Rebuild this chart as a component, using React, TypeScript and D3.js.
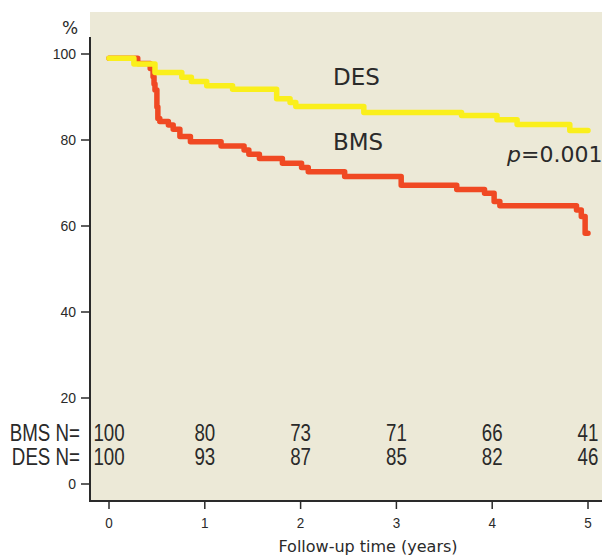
import React from 'react';
import * as d3 from 'd3';

// Kaplan-Meier curves, BMS vs DES
const desTime = [0, 0.26, 0.48, 0.76, 0.86, 1.02, 1.29, 1.75, 1.89, 1.95, 2.66, 3.68, 4.05, 4.26, 4.81, 5.0];
const desSurv = [99, 97.7, 95.7, 94.6, 93.6, 92.6, 91.8, 89.6, 88.7, 87.8, 86.4, 85.7, 84.7, 83.6, 82.2, 82.2];

const bmsTime = [0, 0.3, 0.43, 0.46, 0.47, 0.48, 0.5, 0.51, 0.53, 0.62, 0.67, 0.74, 0.85, 1.17, 1.41, 1.46, 1.57, 1.81, 2.01, 2.08, 2.46, 3.05, 3.63, 3.92, 4.02, 4.08, 4.88, 4.93, 4.97, 5.0];
const bmsSurv = [99, 97.8, 96.6, 94.7, 93, 91.6, 87.7, 85.0, 84.3, 83.5, 82.5, 80.8, 79.6, 78.6, 77.7, 76.7, 75.7, 74.6, 73.6, 72.6, 71.5, 69.5, 68.5, 67.6, 65.7, 64.7, 63.7, 62.2, 58.3, 58.3];

// numbers at risk
const riskYears = [0, 1, 2, 3, 4, 5];
const bmsN = [100, 80, 73, 71, 66, 41];
const desN = [100, 93, 87, 85, 82, 46];

const yTicks = [0, 20, 40, 60, 80, 100];
const xTicks = [0, 1, 2, 3, 4, 5];

const narrow = '"Liberation Sans Narrow", "Arial Narrow", sans-serif';
const sans = '"DejaVu Sans", sans-serif';

export default function App() {
  const width = 602, height = 555;
  const x = d3.scaleLinear().domain([0, 5]).range([109, 588]);
  const y = d3.scaleLinear().domain([0, 100]).range([484, 54]);

  const line = d3.line<[number, number]>()
    .x(d => x(d[0]))
    .y(d => y(d[1]))
    .curve(d3.curveStepAfter);

  const bms = line(bmsTime.map((t, i) => [t, bmsSurv[i]]) as [number, number][]) || '';
  const des = line(desTime.map((t, i) => [t, desSurv[i]]) as [number, number][]) || '';

  const axisCol = '#2a2a2a';
  const txt = '#2a2a2a';

  return (
    <svg width={width} height={height} style={{ position: 'absolute', left: 0, top: 0 }}>
      <rect x={90} y={12} width={width - 90} height={489} fill="#ECE9D7" />

      {/* axes */}
      <line x1={90} y1={37} x2={90} y2={502} stroke={axisCol} strokeWidth={2} />
      <line x1={89} y1={501} x2={width} y2={501} stroke={axisCol} strokeWidth={2} />

      {yTicks.map(t => (
        <g key={'y' + t}>
          <line x1={81} x2={90} y1={y(t)} y2={y(t)} stroke={axisCol} strokeWidth={1.5} />
          <text x={76} y={y(t) + 5} textAnchor="end" fontFamily={narrow} fontSize={14} fill={txt}>{t}</text>
        </g>
      ))}
      {xTicks.map(t => (
        <g key={'x' + t}>
          <line x1={x(t)} x2={x(t)} y1={501} y2={509} stroke={axisCol} strokeWidth={1.5} />
          <text transform={`translate(${x(t)},528) scale(0.9,1)`} textAnchor="middle" fontFamily={narrow} fontSize={15} fill={txt}>{t}</text>
        </g>
      ))}

      <text x={70} y={34} textAnchor="middle" fontFamily={sans} fontSize={17} fill={txt}>%</text>
      <text x={368} y={552} textAnchor="middle" fontFamily={sans} fontSize={16} fill={txt}>Follow-up time (years)</text>

      {/* curves */}
      <path d={bms} fill="none" stroke="#F04923" strokeWidth={5.5} strokeLinecap="round" strokeLinejoin="round" />
      <path d={des} fill="none" stroke="#FAEF1C" strokeWidth={5.5} strokeLinecap="round" strokeLinejoin="round" />

      <text x={333} y={85} fontFamily={sans} fontSize={23} fill={txt}>DES</text>
      <text x={333} y={150} fontFamily={sans} fontSize={23} fill={txt}>BMS</text>
      <text x={507} y={162} fontFamily={sans} fontSize={22} fill={txt}>
        <tspan fontStyle="italic">p</tspan>=0.001
      </text>

      {/* numbers at risk */}
      <text transform="translate(80,441) scale(0.78,1)" textAnchor="end" fontFamily={narrow} fontSize={24} fill={txt}>BMS N=</text>
      <text transform="translate(80,465) scale(0.78,1)" textAnchor="end" fontFamily={narrow} fontSize={24} fill={txt}>DES N=</text>
      {riskYears.map((t, i) => (
        <g key={'n' + t}>
          <text transform={`translate(${x(t)},441) scale(0.78,1)`} textAnchor="middle" fontFamily={narrow} fontSize={24} fill={txt}>{bmsN[i]}</text>
          <text transform={`translate(${x(t)},465) scale(0.78,1)`} textAnchor="middle" fontFamily={narrow} fontSize={24} fill={txt}>{desN[i]}</text>
        </g>
      ))}
    </svg>
  );
}
